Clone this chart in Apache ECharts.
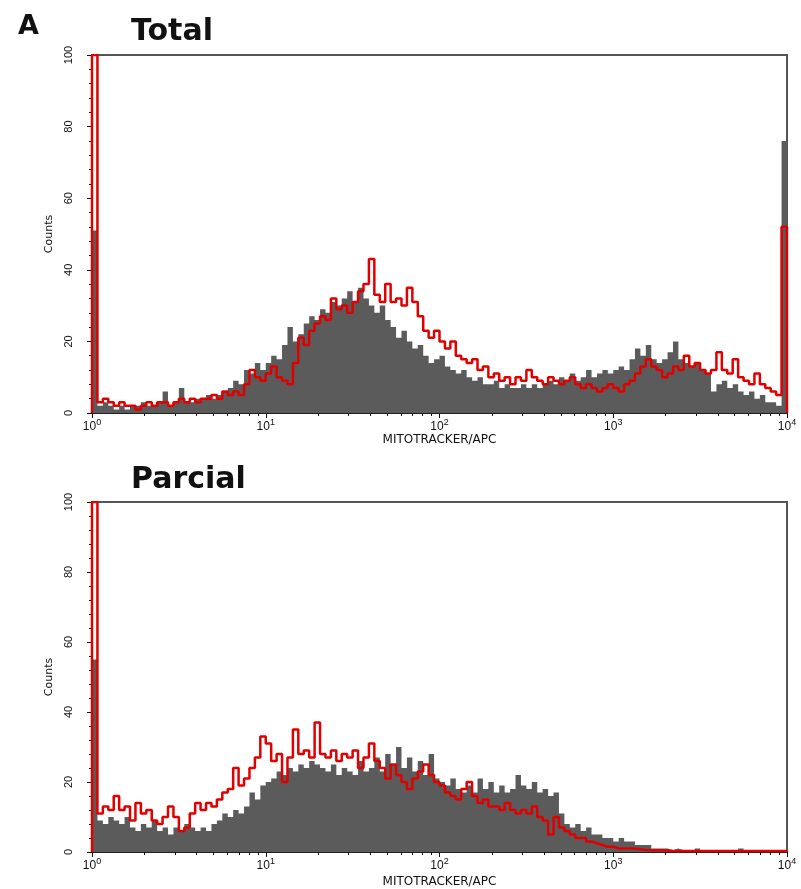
<!DOCTYPE html>
<html>
<head>
<meta charset="utf-8">
<script src="https://cdn.jsdelivr.net/npm/echarts@6/dist/echarts.min.js"></script>
<style>
  html, body { margin: 0; padding: 0; background: #fff; }
  #main { width: 801px; height: 889px; }
</style>
</head>
<body>
<div id="main"></div>
<script>
var chart = echarts.init(document.getElementById('main'));

// 128 channels over 4 decades (10^0 .. 10^4)
var channelCount = 128;
var yTicks = [0, 20, 40, 60, 80, 100];

// Total - gray (filled) histogram
var totalGray = [
  51, 2, 3, 2, 1, 2, 1, 2, 2, 3, 2, 2, 3, 6, 2, 3, 7, 3, 3, 4,
  4, 5, 4, 5, 6, 7, 9, 8, 12, 11, 14, 12,
  14, 16, 15, 19, 24, 20, 22, 25, 27, 26, 29, 28, 31, 30, 32, 34,
  31, 35, 32, 30, 28, 30, 26, 24, 21, 23, 20, 18, 19, 16, 14, 15,
  16, 13, 12, 11, 12, 10, 9, 10, 8, 8, 9, 7, 8, 7, 7, 8,
  7, 8, 7, 8, 9, 8, 10, 9, 11, 9, 10, 12, 10, 11, 12, 11,
  12, 13, 12, 15, 18, 16, 19, 15, 14, 15, 17, 20, 15, 14, 13, 14,
  12, 11, 6, 8, 9, 7, 8, 6, 5, 6, 4, 5, 3, 3, 2, 76
];
// Total - red outline histogram
var totalRed = [
  100, 3, 4, 3, 2, 3, 2, 2, 1, 2, 3, 2, 3, 3, 2, 3, 4, 3, 4, 3,
  4, 4, 5, 4, 6, 5, 6, 5, 8, 12, 10, 9,
  11, 13, 10, 9, 8, 14, 21, 19, 23, 25, 27, 26, 32, 29, 30, 28,
  31, 34, 36, 43, 33, 31, 36, 31, 32, 30, 35, 31, 27, 23, 21, 23,
  20, 18, 20, 16, 15, 14, 15, 12, 13, 10, 11, 9, 10, 8, 10, 9,
  12, 10, 9, 8, 10, 9, 8, 9, 10, 8, 7, 8, 7, 6, 7, 8,
  7, 6, 8, 9, 11, 13, 15, 13, 12, 10, 11, 13, 12, 16, 13, 14,
  12, 11, 12, 17, 12, 11, 15, 10, 9, 8, 11, 8, 7, 6, 5, 52
];
// Parcial - gray (filled) histogram
var parcialGray = [
  55, 9, 8, 10, 9, 8, 10, 7, 6, 8, 7, 9, 6, 7, 5, 7, 6, 8, 7, 6,
  7, 6, 8, 9, 11, 10, 12, 11, 13, 17, 15, 19,
  20, 21, 23, 22, 24, 23, 25, 24, 26, 25, 24, 23, 25, 22, 24, 23,
  22, 26, 23, 24, 27, 23, 28, 25, 30, 24, 27, 23, 26, 22, 28, 21,
  20, 19, 21, 18, 17, 19, 17, 21, 18, 20, 17, 19, 17, 18, 22, 19,
  18, 20, 17, 18, 16, 17, 11, 8, 7, 8, 6, 7, 5, 5, 4, 4,
  3, 4, 3, 3, 2, 2, 2, 1, 1, 1, 0.5, 1, 0.5, 0, 0, 1,
  0, 0, 0, 0, 0, 0, 0, 1, 0, 0, 0, 0, 0, 0, 0, 0
];
// Parcial - red outline histogram
var parcialRed = [
  100, 11, 13, 12, 16, 12, 13, 9, 14, 11, 12, 9, 8, 10, 13, 10, 6, 7, 11, 14,
  12, 14, 13, 15, 17, 18, 24, 19, 21, 24, 27, 33,
  31, 26, 28, 20, 27, 35, 28, 29, 27, 37, 28, 27, 29, 26, 28, 27,
  29, 24, 27, 31, 26, 24, 21, 25, 22, 20, 18, 21, 23, 25, 22, 20,
  19, 17, 16, 15, 18, 20, 16, 14, 15, 13, 13, 12, 14, 12, 11, 12,
  11, 13, 10, 9, 5, 10, 7, 6, 5, 4, 4, 3, 2.5, 2, 1.5, 1.5,
  1, 1, 1, 1, 0.8, 0.6, 0.5, 0.5, 0.5, 0.4, 0.3, 0.3, 0.3, 0.3, 0.3, 0.3,
  0.3, 0.3, 0.3, 0.3, 0.3, 0.3, 0.3, 0.3, 0.3, 0.3, 0.3, 0.3, 0.3, 0.3, 0.3, 0.3
];

// channel edges on the log scale
var edges = [];
for (var i = 0; i <= channelCount; i++) {
    edges.push(Math.pow(10, 4 * i / channelCount));
}
function stepData(vals) {
    var d = [[edges[0], 0]];
    vals.forEach(function (v, i) { d.push([edges[i], v]); });
    d.push([edges[channelCount], vals[channelCount - 1]]);
    d.push([edges[channelCount], 0]);
    return d;
}

// minor ticks 2..9 in each decade, in log units for the helper axis
var minorLog = [];
for (var dec = 0; dec < 4; dec++) {
    for (var k = 2; k <= 9; k++) minorLog.push(dec + Math.log10(k));
}

var gray = '#5b5b5b';
var red = '#e10000';
var axisColor = '#111';

function xAxes(gridIndex, nameGap) {
    return [{
        type: 'log',
        logBase: 10,
        gridIndex: gridIndex,
        min: 1,
        max: 10000,
        name: 'MITOTRACKER/APC',
        nameLocation: 'middle',
        nameGap: nameGap,
        nameTextStyle: { fontFamily: 'DejaVu Sans', fontSize: 12, color: '#111' },
        axisLine: { lineStyle: { color: axisColor, width: 1.5 } },
        axisTick: { length: 5, lineStyle: { color: axisColor } },
        splitLine: { show: false },
        axisLabel: {
            margin: 5,
            showMinLabel: true,
            showMaxLabel: true,
            formatter: function (v) {
                return '{b|10}{s|' + Math.round(Math.log10(v)) + '}';
            },
            rich: {
                b: { fontFamily: 'Liberation Sans', fontSize: 12, color: '#111', verticalAlign: 'bottom' },
                s: { fontFamily: 'Liberation Sans', fontSize: 9, color: '#111', verticalAlign: 'bottom', padding: [0, 0, 6, 0] }
            }
        }
    }, {
        type: 'value',
        gridIndex: gridIndex,
        min: 0,
        max: 4,
        position: 'bottom',
        axisLine: { show: false },
        axisLabel: { show: false },
        splitLine: { show: false },
        axisTick: { show: true, length: 3, customValues: minorLog, lineStyle: { color: axisColor } }
    }];
}

function yAxis(gridIndex) {
    return {
        type: 'value',
        gridIndex: gridIndex,
        min: 0,
        max: 100,
        interval: 20,
        name: 'Counts',
        nameLocation: 'middle',
        nameGap: 36,
        nameTextStyle: { fontFamily: 'DejaVu Sans', fontSize: 11, color: '#111' },
        axisLine: { show: true, lineStyle: { color: axisColor, width: 1.5 } },
        axisTick: { show: true, length: 5, lineStyle: { color: axisColor } },
        minorTick: { show: true, splitNumber: 5, length: 3, lineStyle: { color: axisColor } },
        splitLine: { show: false },
        axisLabel: {
            rotate: 90,
            margin: 18,
            fontFamily: 'Liberation Sans',
            fontSize: 11,
            color: '#111',
            formatter: function (v) { return yTicks.indexOf(v) >= 0 ? String(v) : ''; }
        }
    };
}

function histSeries(vals, xi, yi, filled) {
    return {
        type: 'line',
        xAxisIndex: xi,
        yAxisIndex: yi,
        step: 'end',
        symbol: 'none',
        animation: false,
        silent: true,
        data: stepData(vals),
        lineStyle: filled ? { width: 0 } : { color: red, width: 2.5 },
        itemStyle: { color: filled ? gray : red },
        areaStyle: filled ? { color: gray, opacity: 1 } : undefined,
        z: filled ? 2 : 3
    };
}

var option = {
    backgroundColor: '#fff',
    animation: false,
    title: [
        { text: 'A', left: 13, top: 8, textStyle: { fontFamily: 'DejaVu Sans', fontWeight: 'bold', fontSize: 27, color: '#111' } },
        { text: 'Total', left: 126, top: 12, textStyle: { fontFamily: 'DejaVu Sans', fontWeight: 'bold', fontSize: 30, color: '#111' } },
        { text: 'Parcial', left: 126, top: 460, textStyle: { fontFamily: 'DejaVu Sans', fontWeight: 'bold', fontSize: 30, color: '#111' } }
    ],
    grid: [
        { left: 92, right: 14, top: 55, height: 358, show: true, borderColor: '#555', borderWidth: 2, backgroundColor: 'transparent' },
        { left: 92, right: 14, top: 502, height: 350, show: true, borderColor: '#555', borderWidth: 2, backgroundColor: 'transparent' }
    ],
    xAxis: xAxes(0, 12).concat(xAxes(1, 24)),
    yAxis: [yAxis(0), yAxis(1)],
    series: [
        histSeries(totalGray, 0, 0, true),
        histSeries(totalRed, 0, 0, false),
        histSeries(parcialGray, 2, 1, true),
        histSeries(parcialRed, 2, 1, false)
    ]
};

chart.setOption(option);
</script>
</body>
</html>
